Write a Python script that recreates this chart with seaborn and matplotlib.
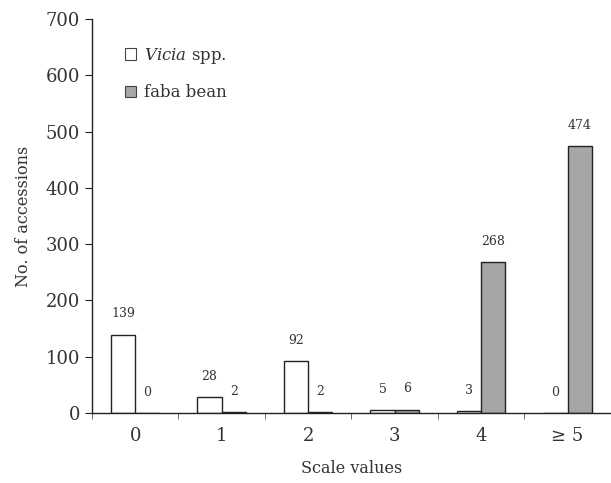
import matplotlib
matplotlib.use('Agg')
import matplotlib.pyplot as plt
from matplotlib.patches import Patch
import seaborn as sns
import pandas as pd

# datos
scale_values = ['0', '1', '2', '3', '4', '\u2265 5']
vicia = [139, 28, 92, 5, 3, 0]
faba = [0, 2, 2, 6, 268, 474]
series_names = ['Vicia spp.', 'faba bean']

df = pd.DataFrame({
    'scale': scale_values * 2,
    'count': vicia + faba,
    'grupo': [series_names[0]] * len(vicia) + [series_names[1]] * len(faba),
})

sns.set_style('white')
plt.rcParams['font.family'] = ['DejaVu Serif']
plt.rcParams['mathtext.fontset'] = 'dejavuserif'

txt = '#333333'
edge = '#222222'
colores = ['white', '#a6a6a6']

fig = plt.figure(figsize=(6.11, 4.83), dpi=100)
ax = fig.add_axes([0.1506, 0.1449, 0.849, 0.8158])

sns.barplot(data=df, x='scale', y='count', hue='grupo', order=scale_values,
            hue_order=series_names, palette=colores, width=0.56,
            edgecolor=edge, linewidth=1.0, ax=ax, legend=False)

# etiquetas de valores
for cont, vals in zip(ax.containers, [vicia, faba]):
    for barra, v in zip(cont, vals):
        ax.annotate(str(v), (barra.get_x() + barra.get_width() / 2, v),
                    xytext=(0, 15), textcoords='offset points',
                    ha='center', va='center', fontsize=9, color=txt)

ax.set_ylim(0, 700)
ax.set_xlim(-0.5, 5.47)
ax.set_yticks(range(0, 701, 100))
ax.set_xticks([i - 0.5 for i in range(7)], minor=True)
ax.tick_params(axis='x', which='major', length=0, labelsize=13, colors=txt, pad=10)
ax.tick_params(axis='x', which='minor', length=4, direction='out', color='#555555', bottom=True)
ax.tick_params(axis='y', length=5, direction='out', labelsize=13, colors=txt, left=True, color=edge)

for s in ['top', 'right']:
    ax.spines[s].set_visible(False)
for s in ['left', 'bottom']:
    ax.spines[s].set_color(edge)
    ax.spines[s].set_linewidth(1.0)

ax.set_xlabel('Scale values', fontsize=11.5, color=txt, labelpad=11)
ax.set_ylabel('No. of accessions', fontsize=11.5, color=txt, labelpad=10)

handles = [Patch(facecolor=c, edgecolor='#444444', linewidth=0.8) for c in colores]
ax.legend(handles, [r'$\it{Vicia}$ spp.', 'faba bean'], loc='upper left',
          bbox_to_anchor=(0.035, 0.97), frameon=False, fontsize=12,
          handlelength=0.65, handleheight=0.65, handletextpad=0.5,
          labelspacing=1.1, labelcolor=txt)

fig.savefig('out.png', dpi=100)
